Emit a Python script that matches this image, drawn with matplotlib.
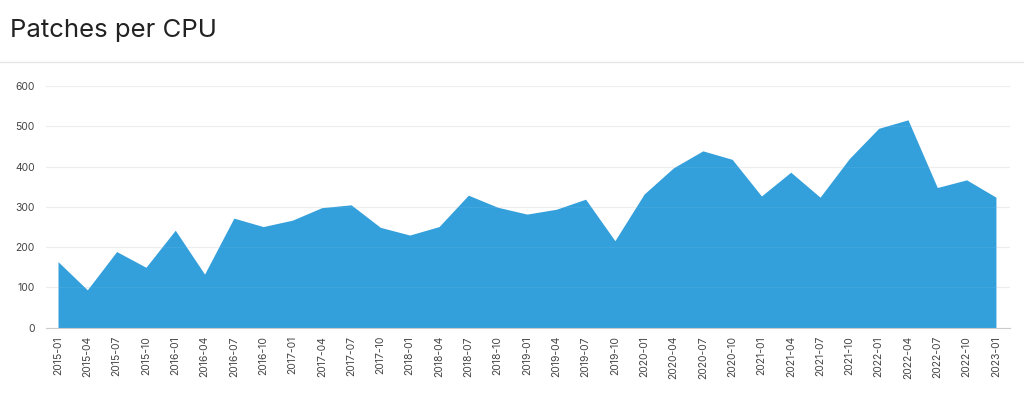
import matplotlib
matplotlib.use("Agg")
import matplotlib.pyplot as plt
import numpy as np

labels = ["2015-01","2015-04","2015-07","2015-10","2016-01","2016-04","2016-07","2016-10",
          "2017-01","2017-04","2017-07","2017-10","2018-01","2018-04","2018-07","2018-10",
          "2019-01","2019-04","2019-07","2019-10","2020-01","2020-04","2020-07","2020-10",
          "2021-01","2021-04","2021-07","2021-10","2022-01","2022-04","2022-07","2022-10",
          "2023-01"]
patches = [164, 94, 189, 150, 242, 133, 272, 251,
           267, 298, 305, 249, 230, 251, 329, 299,
           282, 294, 319, 216, 332, 397, 439, 418,
           327, 386, 324, 420, 495, 516, 348, 367,
           324]
yticks = [0, 100, 200, 300, 400, 500, 600]

plt.rcParams['font.family'] = ['Inter', 'DejaVu Sans']
W, H = 1024, 398
fig = plt.figure(figsize=(W/100, H/100), dpi=100)
fig.text(10/W, 1 - 30/H, "Patches per CPU", fontsize=18.5, color="#222222", va="center", ha="left")
fig.add_artist(plt.Line2D([0, 1], [1 - 61.5/H, 1 - 61.5/H], color="#e6e6e6", lw=1))

ax = fig.add_axes([46/W, 1 - 327.7/H, (1010-46)/W, (327.7-86)/H])
x = np.arange(len(labels))
ax.fill_between(x, patches, 0, color="#339fdb", lw=0)
ax.set_xlim(-0.41, len(labels) - 1 + 0.48)
ax.set_ylim(0, 600)
ax.set_yticks(yticks)
ax.set_xticks(x)
ax.set_xticklabels(labels, rotation=90, fontsize=7.5, color="#444444")
ax.tick_params(axis='y', labelsize=7.5, labelcolor="#444444", length=0, pad=8)
ax.tick_params(axis='x', length=0, pad=6)
ax.grid(axis='y', color="#ececec", lw=0.8)
ax.set_axisbelow(True)
for s in ["left", "right", "top"]:
    ax.spines[s].set_visible(False)
ax.spines["bottom"].set_color("#cccccc")
for t in yticks[1:]:
    ax.axhline(t, color="#ffffff", alpha=0.07, lw=0.8, zorder=3)
fig.savefig("out.png", dpi=100)
